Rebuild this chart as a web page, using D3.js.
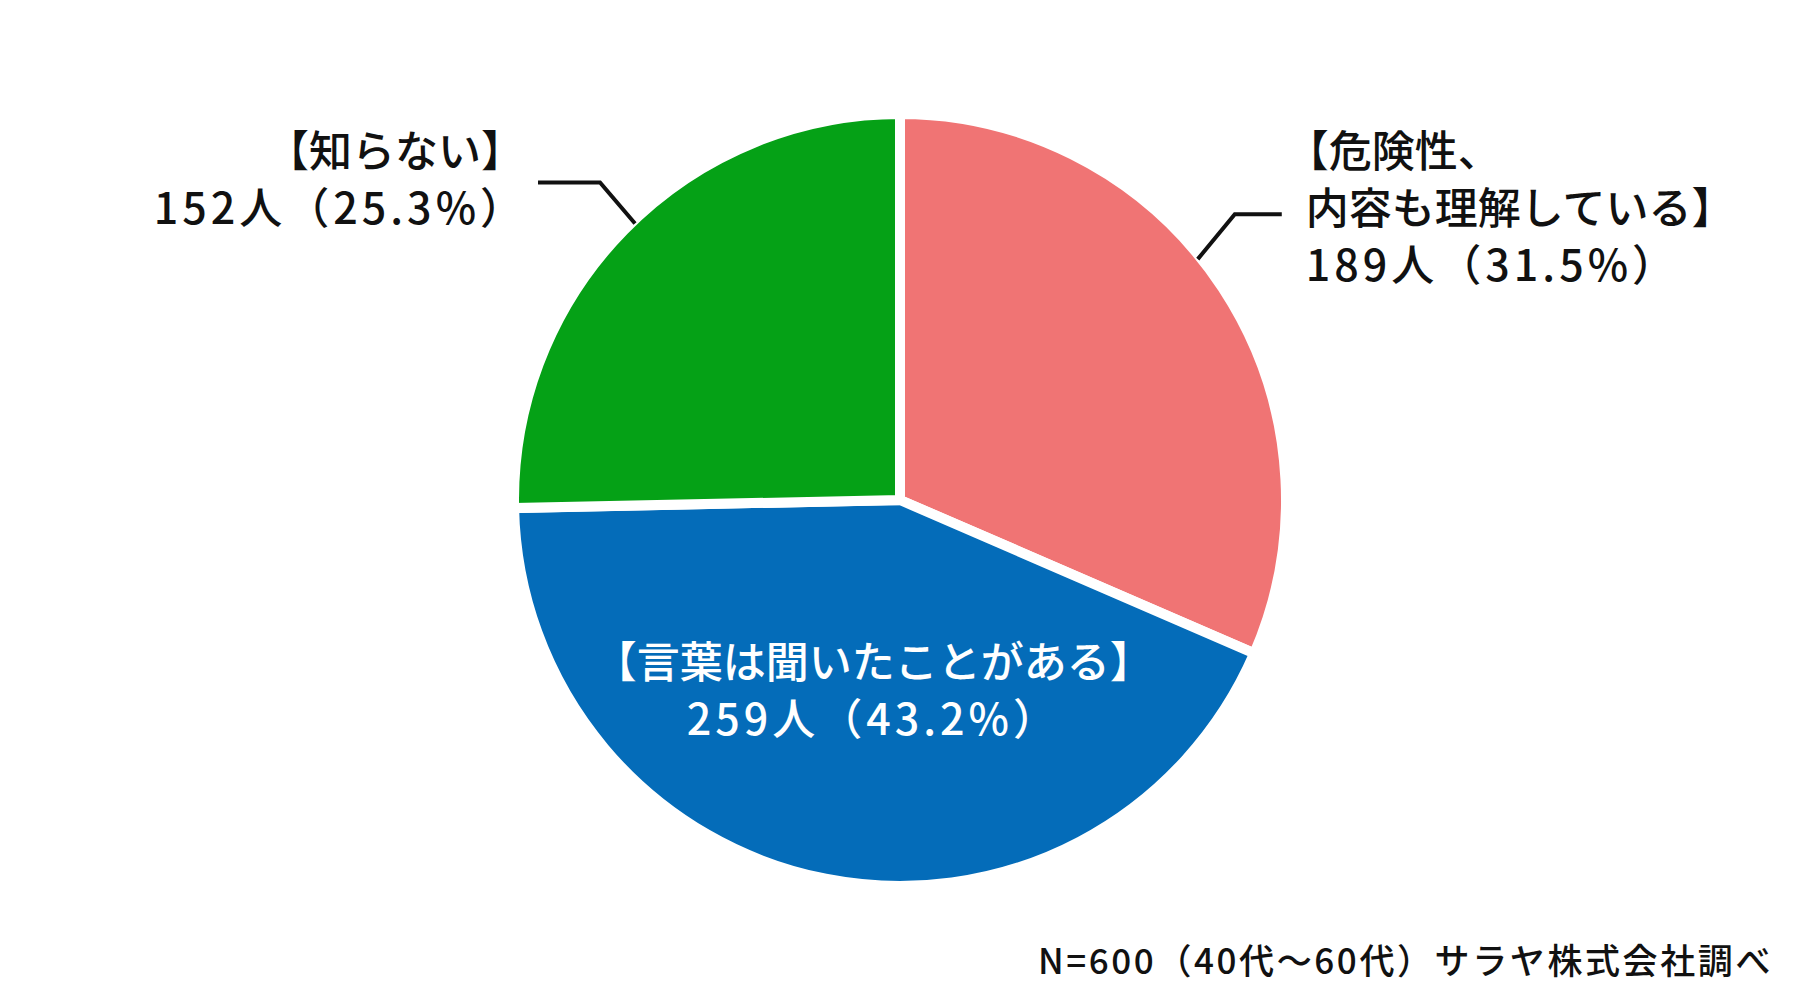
<!DOCTYPE html>
<meta charset="utf-8">
<style>

body {
  margin: 0;
  background: #fff;
}

text {
  font-family: "Noto Sans CJK JP", sans-serif;
  font-weight: 500;
}

.label {
  font-size: 43px;
  fill: #111;
}

.label--inside {
  fill: #fff;
}

.value {
  letter-spacing: 4px;
}

.leader {
  fill: none;
  stroke: #111;
  stroke-width: 4;
}

.note {
  font-size: 35px;
  fill: #111;
  letter-spacing: 2.6px;
}

</style>
<svg width="1800" height="1000"></svg>
<script src="https://d3js.org/d3.v7.min.js"></script>
<script>

// survey answers, clockwise from 12 o'clock
var categories = ["危険性、内容も理解している", "言葉は聞いたことがある", "知らない"],
    labelLines = [["【危険性、", "内容も理解している】"], ["【言葉は聞いたことがある】"], ["【知らない】"]],
    counts = [189, 259, 152],
    percents = [31.5, 43.2, 25.3],
    colors = ["#f07474", "#046cb9", "#05a116"],
    note = "N=600（40代～60代）サラヤ株式会社調べ";

var svg = d3.select("svg"),
    width = +svg.attr("width"),
    height = +svg.attr("height"),
    cx = 900,
    cy = 500,
    radius = 386,
    lineHeight = 57;

var data = categories.map(function(c, i) {
  return {category: c, lines: labelLines[i], count: counts[i], percent: percents[i], color: colors[i]};
});

var pie = d3.pie()
    .sort(null)
    .value(function(d) { return d.count; });

var arc = d3.arc()
    .innerRadius(0)
    .outerRadius(radius);

var labelArc = d3.arc()
    .innerRadius(radius * 0.52)
    .outerRadius(radius * 0.52);

var arcs = pie(data);

var g = svg.append("g")
    .attr("transform", "translate(" + cx + "," + cy + ")");

g.selectAll(".slice")
  .data(arcs)
  .enter().append("path")
    .attr("class", "slice")
    .attr("d", arc)
    .attr("fill", function(d) { return d.data.color; })
    .attr("stroke", "#fff")
    .attr("stroke-width", 10);

function valueText(d) {
  return d.count + "人（" + d.percent.toFixed(1) + "%）";
}

// point on the visible rim at a fraction of the slice's sweep
function rimPoint(a, t) {
  var ang = a.startAngle + (a.endAngle - a.startAngle) * t,
      r = radius - 3;
  return [Math.sin(ang) * r, -Math.cos(ang) * r];
}

// inside label for the big slice
var inside = arcs[1],
    c = labelArc.centroid(inside);

var inLabel = g.append("text")
    .attr("class", "label label--inside")
    .attr("text-anchor", "middle")
    .attr("transform", "translate(" + (c[0] + 12) + "," + (c[1] - 19) + ")");

inLabel.append("tspan")
    .attr("x", 0)
    .attr("y", 0)
    .text(inside.data.lines[0]);

inLabel.append("tspan")
    .attr("class", "value")
    .attr("x", 0)
    .attr("y", lineHeight)
    .text(valueText(inside.data));

// right label (first slice)
var right = arcs[0],
    p = rimPoint(right, 0.45),
    elbow = [p[0] + 37, p[1] - 45];

g.append("path")
    .attr("class", "leader")
    .attr("d", d3.line()([p, elbow, [elbow[0] + 47, elbow[1]]]));

var rLabel = g.append("text")
    .attr("class", "label")
    .attr("transform", "translate(" + (elbow[0] + 71) + "," + (elbow[1] + 10) + ")");

right.data.lines.concat([valueText(right.data)]).forEach(function(t, i, all) {
  rLabel.append("tspan")
      .attr("class", i === all.length - 1 ? "value" : null)
      .attr("x", t.charAt(0) === "【" ? -20 : 0)
      .attr("y", (i - 1) * lineHeight)
      .text(t);
});

// left label (last slice)
var left = arcs[2],
    q = rimPoint(left, 0.52),
    elbowL = [q[0] - 35, q[1] - 41];

g.append("path")
    .attr("class", "leader")
    .attr("d", d3.line()([q, elbowL, [elbowL[0] - 62, elbowL[1]]]));

var lLabel = g.append("text")
    .attr("class", "label")
    .attr("text-anchor", "end")
    .attr("transform", "translate(" + (elbowL[0] - 76) + "," + (elbowL[1] + 42) + ")");

left.data.lines.concat([valueText(left.data)]).forEach(function(t, i, all) {
  lLabel.append("tspan")
      .attr("class", i === all.length - 1 ? "value" : null)
      .attr("x", i === all.length - 1 ? 3 : 0)
      .attr("y", (i - 1) * lineHeight)
      .text(t);
});

svg.append("text")
    .attr("class", "note")
    .attr("text-anchor", "end")
    .attr("x", width - 27)
    .attr("y", height - 26)
    .text(note);

</script>
